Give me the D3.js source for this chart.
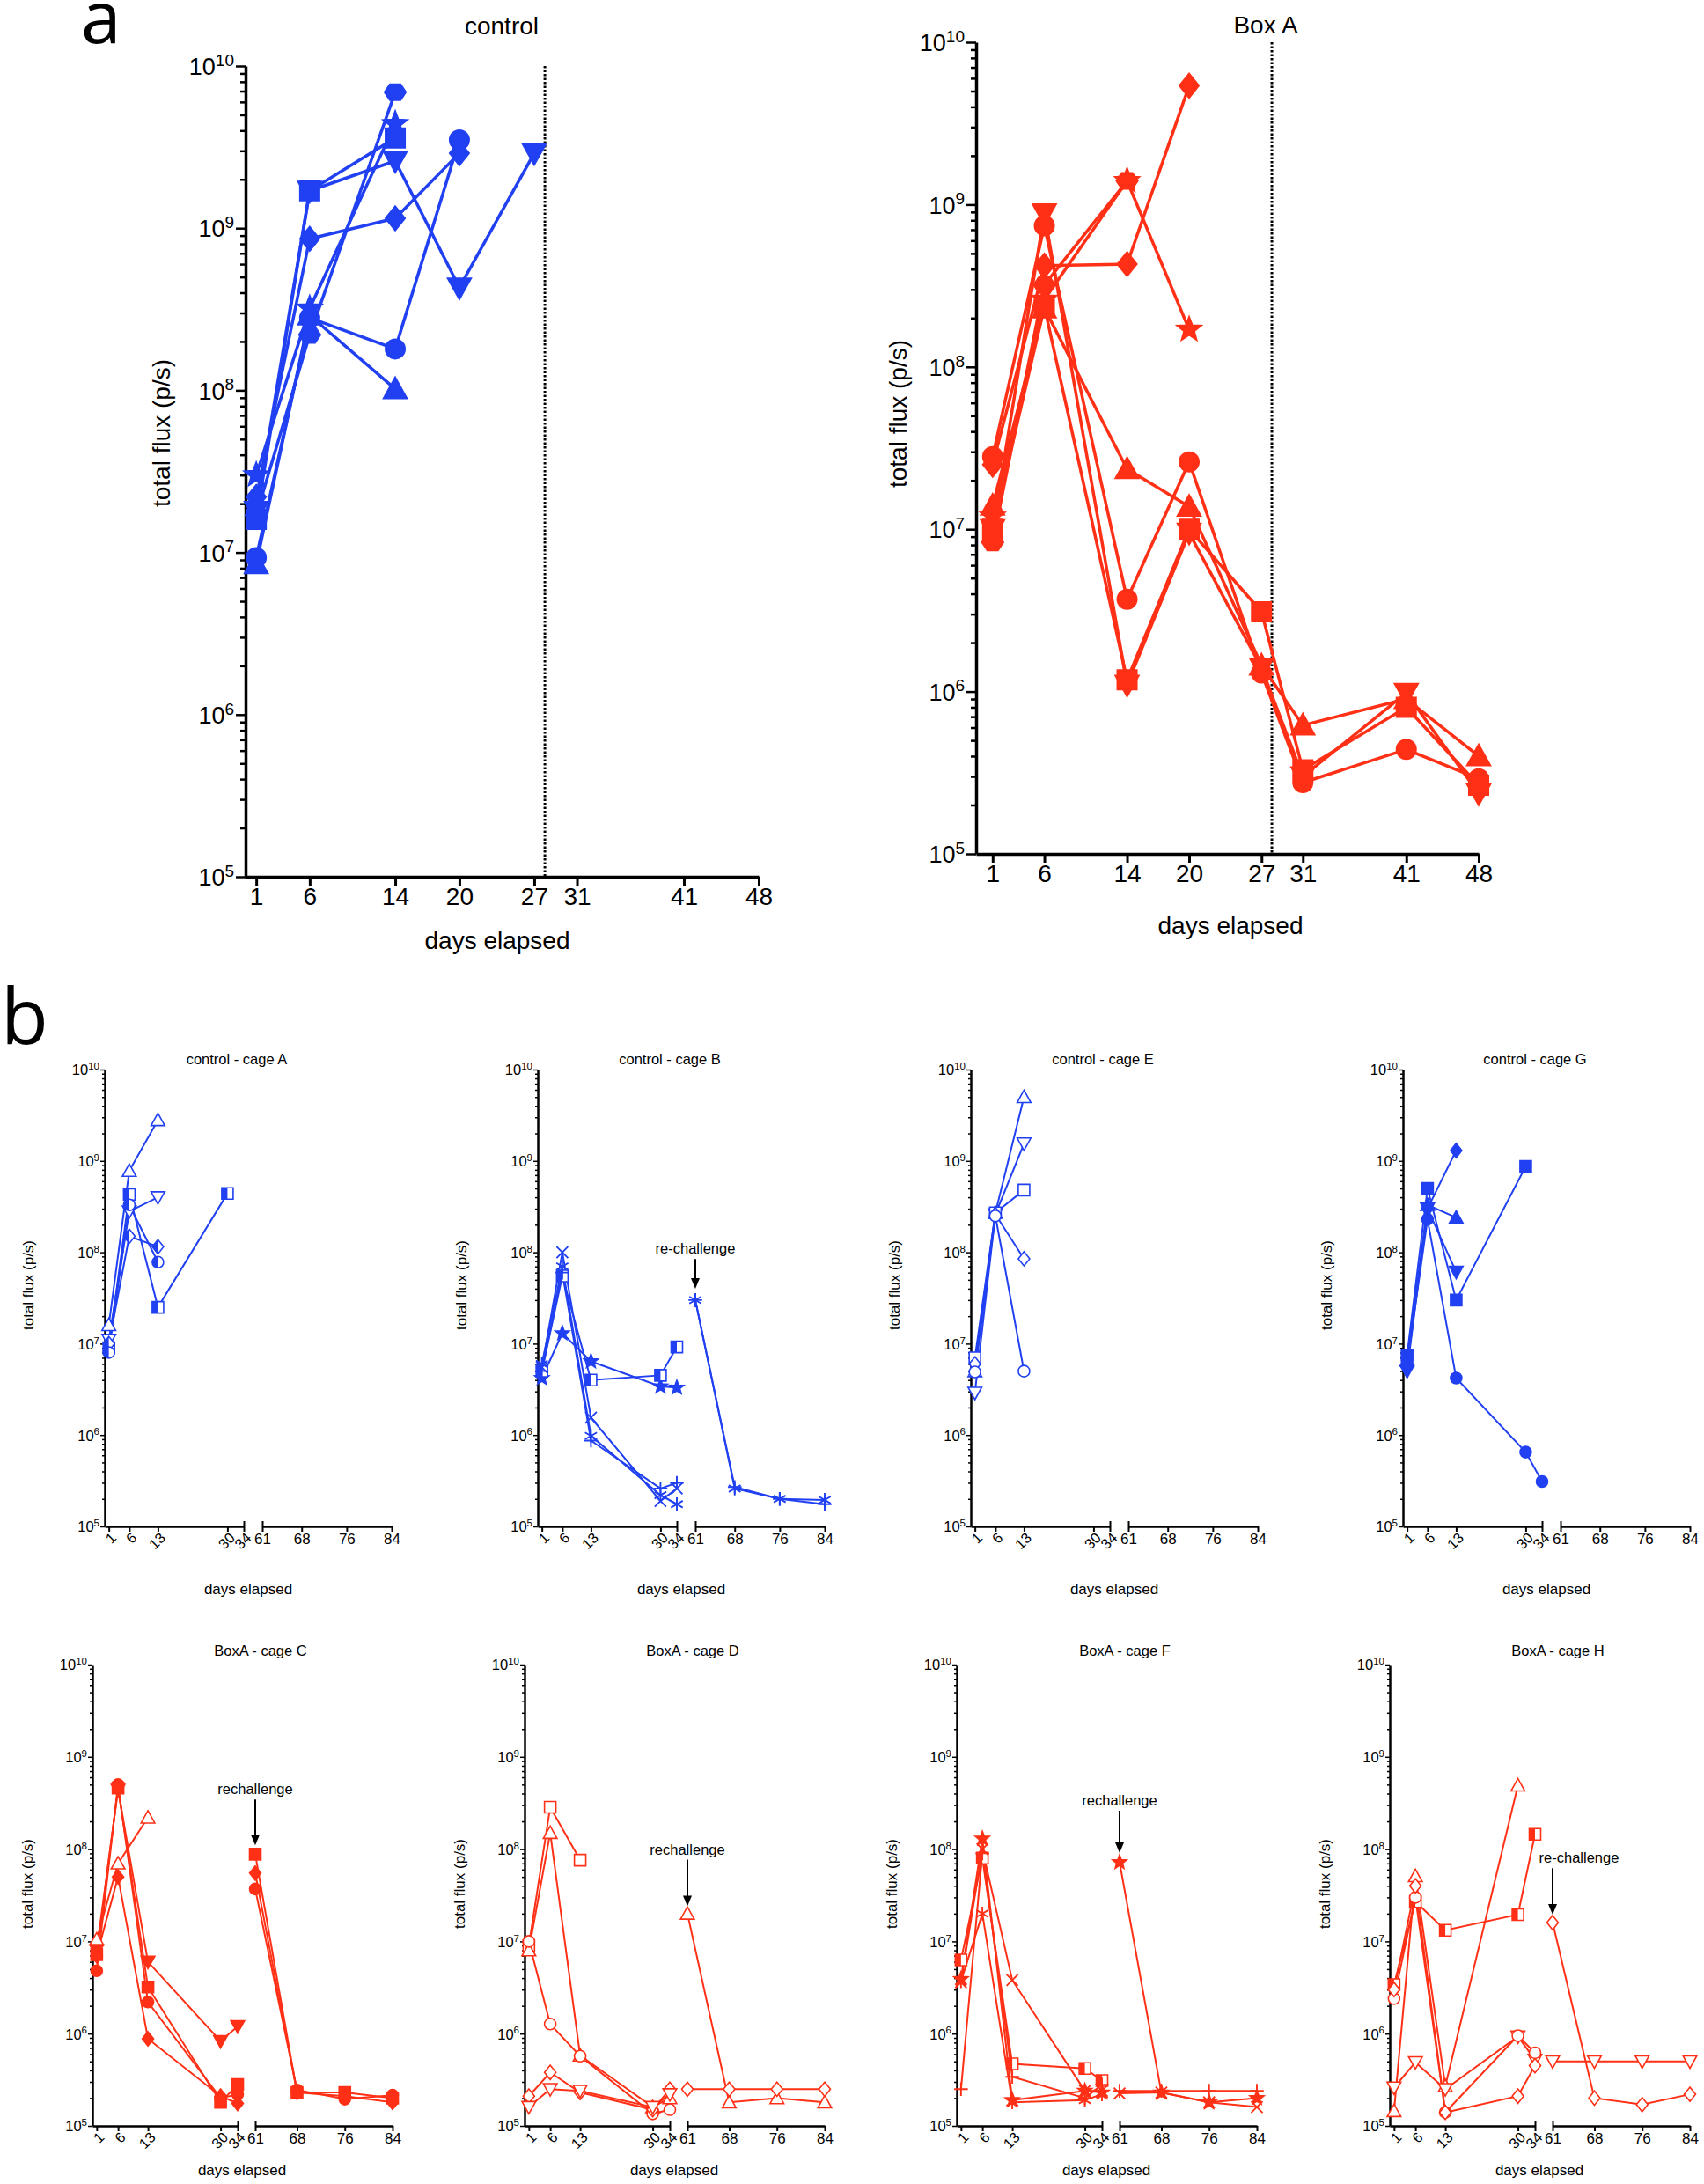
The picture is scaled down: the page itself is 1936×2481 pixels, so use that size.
<!DOCTYPE html>
<html><head><meta charset="utf-8">
<script src="https://cdn.jsdelivr.net/npm/d3@7"></script>
<style>body{margin:0;background:#fff} svg{display:block}</style>
</head><body>
<svg id="chart" width="1936" height="2481"></svg>
<script>
const BLUE = "#2040f2", RED = "#ff3016";
const FONT = "'Liberation Sans', Arial, Helvetica, sans-serif";

// ---------- panel a data ----------
const aXTicks = [1, 6, 14, 20, 27, 31, 41, 48];
const aDottedDay = 28;
const aControl = [
  {shape:"circle",  pts:[[1,9.3e6],[6,2.8e8],[14,1.8e8],[20,3.5e9]]},
  {shape:"triUp",   pts:[[1,8.5e6],[6,2.9e8],[14,1.02e8]]},
  {shape:"square",  pts:[[1,1.6e7],[6,1.7e9],[14,3.6e9]]},
  {shape:"triDown", pts:[[1,1.8e7],[6,1.7e9],[14,2.6e9],[20,4.3e8],[27,2.9e9]]},
  {shape:"diamond", pts:[[1,2.2e7],[6,8.6e8],[14,1.15e9],[20,2.9e9]]},
  {shape:"hexagon", pts:[[1,1.7e7],[6,2.2e8],[14,6.9e9]]},
  {shape:"star",    pts:[[1,3.0e7],[6,3.2e8],[14,4.4e9]]}
];
const aBoxA = [
  {shape:"circle",  pts:[[1,2.8e7],[6,7.4e8],[14,3.7e6],[20,2.6e7],[27,1.3e6],[31,2.75e5],[41,4.4e5],[48,2.9e5]]},
  {shape:"square",  pts:[[1,1.0e7],[6,2.35e8],[14,1.18e6],[20,1.0e7],[27,3.1e6],[31,3.3e5],[41,8.0e5],[48,2.65e5]]},
  {shape:"triUp",   pts:[[1,1.4e7],[6,2.3e8],[14,2.35e7],[20,1.38e7],[27,1.45e6],[31,6.2e5],[41,9.0e5],[48,4.0e5]]},
  {shape:"triDown", pts:[[1,1.0e7],[6,8.8e8],[14,1.1e6],[20,9.5e6],[27,1.4e6],[31,3.0e5],[41,9.8e5],[48,2.35e5]]},
  {shape:"diamond", pts:[[1,2.5e7],[6,4.2e8],[14,4.3e8],[20,5.4e9]]},
  {shape:"hexagon", pts:[[1,8.3e6],[6,3.2e8],[14,1.4e9]]},
  {shape:"star",    pts:[[1,1.2e7],[6,2.6e8],[14,1.4e9],[20,1.7e8]]}
];

// ---------- panel b data ----------
const bSeg1Ticks = [1, 6, 13, 30, 34];
const bSeg2Ticks = [61, 68, 76, 84];
const bCageA = [
  {shape:"triUp",   fill:"open", pts:[[1,1.6e7],[6,7.8e8],[13,2.8e9]]},
  {shape:"triDown", fill:"open", pts:[[1,1.1e7],[6,2.8e8],[13,4.0e8]]},
  {shape:"square",  fill:"half", pts:[[1,9.0e6],[6,4.3e8],[13,2.5e7],[30,4.4e8]]},
  {shape:"diamond", fill:"half", pts:[[1,1.0e7],[6,1.5e8],[13,1.15e8]]},
  {shape:"circle",  fill:"half", pts:[[1,8.0e6],[6,3.3e8],[13,7.8e7]]}
];
const bCageB = [
  {shape:"star",     fill:"solid", pts:[[1,4.2e6],[6,1.3e7],[13,6.4e6],[30,3.4e6],[34,3.3e6]]},
  {shape:"square",   fill:"half",  pts:[[1,5.0e6],[6,5.5e7],[13,4.0e6],[30,4.5e6],[34,9.2e6]]},
  {shape:"x",        pts:[[1,5.5e6],[6,1.0e8],[13,1.55e6],[30,1.9e5],[34,2.6e5]]},
  {shape:"asterisk", pts:[[1,6.0e6],[6,7.0e7],[13,9.8e5],[30,2.2e5],[34,1.75e5],[61,3.0e7],[68,2.6e5],[76,2.0e5],[84,1.95e5]]},
  {shape:"plus",     pts:[[1,5.0e6],[6,6.0e7],[13,8.7e5],[30,2.6e5],[34,3.0e5],[61,3.0e7],[68,2.7e5],[76,2.0e5],[84,1.75e5]]}
];
const bCageE = [
  {shape:"triUp",   fill:"open", pts:[[1,5.0e6],[6,2.7e8],[13,5.0e9]]},
  {shape:"triDown", fill:"open", pts:[[1,2.9e6],[6,2.6e8],[13,1.55e9]]},
  {shape:"square",  fill:"open", pts:[[1,7.0e6],[6,2.7e8],[13,4.8e8]]},
  {shape:"diamond", fill:"open", pts:[[1,6.0e6],[6,2.6e8],[13,8.5e7]]},
  {shape:"circle",  fill:"open", pts:[[1,4.9e6],[6,2.5e8],[13,5.0e6]]}
];
const bCageG = [
  {shape:"diamond", fill:"solid", pts:[[1,5.5e6],[6,3.0e8],[13,1.3e9]]},
  {shape:"square",  fill:"solid", pts:[[1,7.5e6],[6,5.0e8],[13,3.0e7],[30,8.7e8]]},
  {shape:"triUp",   fill:"solid", pts:[[1,6.5e6],[6,3.3e8],[13,2.4e8]]},
  {shape:"triDown", fill:"solid", pts:[[1,5.0e6],[6,3.0e8],[13,6.1e7]]},
  {shape:"circle",  fill:"solid", pts:[[1,6.0e6],[6,2.3e8],[13,4.2e6],[30,6.5e5],[34,3.1e5]]}
];
const bCageC = [
  {shape:"circle",  fill:"solid", pts:[[1,4.8e6],[6,5.0e8],[13,2.2e6],[30,2.0e5],[34,2.2e5],[61,3.7e7],[68,2.45e5],[76,1.95e5],[84,2.15e5]]},
  {shape:"square",  fill:"solid", pts:[[1,7.2e6],[6,4.6e8],[13,3.2e6],[30,1.8e5],[34,2.8e5],[61,8.8e7],[68,2.3e5],[76,2.3e5],[84,2.0e5]]},
  {shape:"triUp",   fill:"open",  pts:[[1,1.05e7],[6,7.0e7],[13,2.2e8]]},
  {shape:"triDown", fill:"solid", pts:[[1,8.0e6],[6,4.4e8],[13,6.0e6],[30,8.3e5],[34,1.2e6]]},
  {shape:"diamond", fill:"solid", pts:[[1,7.0e6],[6,5.0e7],[13,8.8e5],[30,2.1e5],[34,1.75e5],[61,5.5e7],[68,2.3e5],[76,2.1e5],[84,1.8e5]]}
];
const bCageD = [
  {shape:"square",  fill:"open", pts:[[1,9.0e6],[6,2.85e8],[13,7.6e7]]},
  {shape:"triUp",   fill:"open", pts:[[1,8.0e6],[6,1.5e8],[13,5.8e5],[30,1.6e5],[34,2.0e5],[61,2.0e7],[68,1.8e5],[76,2.0e5],[84,1.8e5]]},
  {shape:"circle",  fill:"open", pts:[[1,1.0e7],[6,1.27e6],[13,5.7e5],[30,1.35e5],[34,1.5e5]]},
  {shape:"diamond", fill:"open", pts:[[1,2.1e5],[6,3.8e5],[13,2.3e5],[30,1.5e5],[34,2.5e5],[61,2.5e5],[68,2.5e5],[76,2.5e5],[84,2.5e5]]},
  {shape:"triDown", fill:"open", pts:[[1,1.6e5],[6,2.5e5],[13,2.4e5],[30,1.6e5],[34,2.2e5]]}
];
const bCageF = [
  {shape:"square",   fill:"half",  pts:[[1,6.3e6],[6,8.0e7],[13,4.7e5],[30,4.2e5],[34,3.1e5]]},
  {shape:"star",     fill:"solid", pts:[[1,3.9e6],[6,1.3e8],[13,1.9e5],[30,2.4e5],[34,2.3e5],[61,7.2e7],[68,2.3e5],[76,1.8e5],[84,2.0e5]]},
  {shape:"asterisk", pts:[[1,3.7e6],[6,2.0e7],[13,1.8e5],[30,1.9e5],[34,2.2e5]]},
  {shape:"x",        pts:[[1,3.6e6],[6,1.0e8],[13,3.8e6],[30,2.4e5],[34,2.4e5],[61,2.25e5],[68,2.3e5],[76,1.8e5],[84,1.6e5]]},
  {shape:"plus",     pts:[[1,2.5e5],[6,9.0e7],[13,3.4e5],[30,2.0e5],[34,2.8e5],[61,2.4e5],[68,2.4e5],[76,2.4e5],[84,2.4e5]]}
];
const bCageH = [
  {shape:"triUp",   fill:"open", pts:[[1,1.45e5],[6,5.1e7],[13,2.7e5],[30,4.9e8]]},
  {shape:"square",  fill:"half", pts:[[1,3.4e6],[6,2.7e7],[13,1.32e7],[30,1.95e7],[34,1.45e8]]},
  {shape:"triDown", fill:"open", pts:[[1,2.6e5],[6,4.9e5],[13,2.5e5],[30,9.3e5],[34,5.2e5],[61,5.0e5],[68,5.0e5],[76,5.0e5],[84,5.0e5]]},
  {shape:"circle",  fill:"open", pts:[[1,2.4e6],[6,3.0e7],[13,1.4e5],[30,9.5e5],[34,6.2e5]]},
  {shape:"diamond", fill:"open", pts:[[1,3.0e6],[6,4.0e7],[13,1.4e5],[30,2.1e5],[34,4.5e5],[61,1.6e7],[68,2.0e5],[76,1.7e5],[84,2.2e5]]}
];
const bTitles = ["control - cage A","control - cage B","control - cage E","control - cage G",
                 "BoxA - cage C","BoxA - cage D","BoxA - cage F","BoxA - cage H"];
const bData = [bCageA, bCageB, bCageE, bCageG, bCageC, bCageD, bCageF, bCageH];
// rechallenge notes: panel index, label, day, value at text centre, value at arrow tip
const bNotes = [
  {panel:1, text:"re-challenge", day:61, textVal:1.1e8, tipVal:4.0e7, dx:0},
  {panel:4, text:"rechallenge",  day:61, textVal:4.5e8, tipVal:1.1e8, dx:0},
  {panel:5, text:"rechallenge",  day:61, textVal:1.0e8, tipVal:2.4e7, dx:0},
  {panel:6, text:"rechallenge",  day:61, textVal:3.4e8, tipVal:9.1e7, dx:0},
  {panel:7, text:"re-challenge", day:61, textVal:8.1e7, tipVal:1.95e7, dx:30}
];

// ---------- helpers ----------
const svg = d3.select("#chart").attr("font-family", FONT);
svg.append("defs").append("clipPath").attr("id","lhalf").attr("clipPathUnits","userSpaceOnUse")
  .append("rect").attr("x",-40).attr("y",-40).attr("width",40).attr("height",80);

const strokeOnly = new Set(["x","plus","asterisk"]);
function shapePath(shape, r){
  const f = v => (+v).toFixed(2);
  switch(shape){
    case "circle": return `M${-r},0A${r},${r},0,1,0,${r},0A${r},${r},0,1,0,${-r},0Z`;
    case "square": return `M${-r},${-r}H${r}V${r}H${-r}Z`;
    case "triUp": { const h=r*1.2; return `M0,${-h}L${h},${h*0.8}L${-h},${h*0.8}Z`; }
    case "triDown": { const h=r*1.2; return `M0,${h}L${h},${-h*0.8}L${-h},${-h*0.8}Z`; }
    case "diamond": return `M0,${-r*1.25}L${r},0L0,${r*1.25}L${-r},0Z`;
    case "hexagon": { let p=""; for(let i=0;i<6;i++){const a=i*Math.PI/3; p+=(i?"L":"M")+f(r*1.1*Math.cos(a))+","+f(r*0.95*Math.sin(a));} return p+"Z"; }
    case "star": { let p=""; for(let i=0;i<10;i++){const a=-Math.PI/2+i*Math.PI/5; const rr=i%2?r*0.55:r*1.3; p+=(i?"L":"M")+f(rr*Math.cos(a))+","+f(rr*Math.sin(a));} return p+"Z"; }
    case "x": return `M${-r},${-r}L${r},${r}M${-r},${r}L${r},${-r}`;
    case "plus": return `M${-r*1.2},0H${r*1.2}M0,${-r*1.2}V${r*1.2}`;
    case "asterisk": { let p=""; for(let i=0;i<3;i++){const a=Math.PI/2+i*Math.PI/3; const c=Math.cos(a)*r*1.2, s=Math.sin(a)*r*1.2; p+=`M${f(-c)},${f(-s)}L${f(c)},${f(s)}`;} return p; }
  }
}
function drawMarker(parent, s, px, py, color, r, sw){
  const g = parent.append("g").attr("transform", `translate(${px},${py})`);
  const path = shapePath(s.shape, r);
  if (strokeOnly.has(s.shape)) {
    g.append("path").attr("d",path).attr("fill","none").attr("stroke",color).attr("stroke-width",sw*1.2);
    return;
  }
  const mode = s.fill || "solid";
  g.append("path").attr("d",path).attr("fill", mode==="solid"?color:"#fff").attr("stroke",color).attr("stroke-width",sw);
  if (mode==="half") g.append("path").attr("d",path).attr("fill",color).attr("clip-path","url(#lhalf)");
}
const isMajor = d => Math.abs(Math.log10(d) - Math.round(Math.log10(d))) < 1e-9;
function yTickVals(){ const v=[]; for(let k=5;k<10;k++) for(let m=1;m<10;m++) v.push(m*Math.pow(10,k)); v.push(1e10); return v; }

function drawYAxis(g, y, o){
  const ga = g.append("g").call(d3.axisLeft(y).tickValues(yTickVals()).tickSizeOuter(0).tickFormat(()=>""));
  ga.attr("font-family", FONT).attr("font-size", o.fs);
  ga.select(".domain").attr("stroke","#000").attr("stroke-width", o.sw);
  ga.selectAll(".tick line").attr("stroke","#000").attr("stroke-width", o.tw).attr("x2", d => isMajor(d) ? -o.major : -o.minor);
  ga.selectAll(".tick text").each(function(d){
    const t = d3.select(this);
    t.text(null).attr("x", -o.gap).attr("dy","0.36em").attr("fill","#000");
    if (isMajor(d)) {
      t.append("tspan").text("10");
      t.append("tspan").attr("dy","-0.55em").attr("font-size", o.sup).text(Math.round(Math.log10(d)));
    }
  });
}

// ---------- panel a ----------
const aPanels = [
  {data:aControl, color:BLUE, x0:279, x1:862, dom:[0,48], yTop:75, yBot:996, title:"control", titleX:570, titleY:39, ylabX:193, ylabY:492, xlabX:565, xlabY:1078},
  {data:aBoxA, color:RED, x0:1109, x1:1680, dom:[-0.6,48], yTop:48, yBot:970, title:"Box A", titleX:1438, titleY:38, ylabX:1030, ylabY:470, xlabX:1398, xlabY:1061}
];
aPanels.forEach(P => {
  const x = d3.scaleLinear().domain(P.dom).range([P.x0, P.x1]);
  const y = d3.scaleLog().domain([1e5,1e10]).range([P.yBot, P.yTop]);
  const g = svg.append("g");
  g.append("line").attr("x1", x(aDottedDay)).attr("x2", x(aDottedDay)).attr("y1", y(1e10)).attr("y2", y(1e5))
    .attr("stroke","#000").attr("stroke-width",3).attr("stroke-dasharray","2.5,2");
  const gx = g.append("g").attr("transform", `translate(0,${P.yBot})`)
    .call(d3.axisBottom(x).tickValues(aXTicks).tickSize(10).tickSizeOuter(0));
  gx.attr("font-family", FONT).attr("font-size", 28);
  gx.select(".domain").attr("stroke","#000").attr("stroke-width",3.5);
  gx.selectAll(".tick line").attr("stroke","#000").attr("stroke-width",3);
  gx.selectAll(".tick text").attr("fill","#000").attr("y",12);
  const gy = g.append("g").attr("transform", `translate(${P.x0},0)`);
  drawYAxis(gy, y, {fs:27, sup:19, sw:3.5, tw:2.5, major:11, minor:6, gap:13});
  const line = d3.line().x(d=>x(d[0])).y(d=>y(d[1]));
  P.data.forEach(s => g.append("path").attr("d", line(s.pts)).attr("fill","none").attr("stroke",P.color).attr("stroke-width",3.5).attr("stroke-linejoin","round"));
  P.data.forEach(s => s.pts.forEach(d => drawMarker(g, s, x(d[0]), y(d[1]), P.color, 11, 2)));
  g.append("text").attr("x",P.titleX).attr("y",P.titleY).attr("text-anchor","middle").attr("font-size",28).text(P.title);
  g.append("text").attr("transform",`translate(${P.ylabX},${P.ylabY}) rotate(-90)`).attr("text-anchor","middle").attr("font-size",28).text("total flux (p/s)");
  g.append("text").attr("x",P.xlabX).attr("y",P.xlabY).attr("text-anchor","middle").attr("font-size",28).text("days elapsed");
});
svg.append("text").attr("x",92).attr("y",49).attr("font-family","'Open Sans', sans-serif").attr("font-size",82).text("a");
svg.append("text").attr("x",1).attr("y",1186).attr("font-family","'Open Sans', sans-serif").attr("font-size",88).text("b");

// ---------- panel b ----------
const bRows = [
  {axisXs:[119,611,1103,1594], yTop:1215, yBot:1734, seg1W:158, seg2A:179, seg2B:326, titleDx:150, titleY:1209, ylabDx:-81, ylabY:1460, xlabDx:163, xlabY:1811},
  {axisXs:[105,596,1087,1579], yTop:1891, yBot:2415, seg1W:165, seg2A:185, seg2B:341, titleDx:191, titleY:1881, ylabDx:-68, ylabY:2140, xlabDx:170, xlabY:2471}
];
bData.forEach((data, i) => {
  const R = bRows[Math.floor(i/4)];
  const X = R.axisXs[i%4];
  const color = i < 4 ? BLUE : RED;
  const x1 = d3.scaleLinear().domain([0,34]).range([X, X+R.seg1W]);
  const x2 = d3.scaleLinear().domain([61,84]).range([X+R.seg2A, X+R.seg2B]);
  const y = d3.scaleLog().domain([1e5,1e10]).range([R.yBot, R.yTop]);
  const g = svg.append("g");
  const ga1 = g.append("g").attr("transform",`translate(0,${R.yBot})`)
    .call(d3.axisBottom(x1).tickValues(bSeg1Ticks).tickSize(6).tickSizeOuter(0));
  ga1.attr("font-family",FONT).attr("font-size",16.5);
  ga1.select(".domain").attr("stroke","#000").attr("stroke-width",2.5);
  ga1.selectAll(".tick line").attr("stroke","#000").attr("stroke-width",2).attr("y1", d => d===34 ? -6 : 0);
  ga1.selectAll(".tick text").attr("fill","#000").attr("x",0).attr("y",0).attr("dy","0.35em")
    .attr("text-anchor","end").attr("transform","translate(5,10) rotate(-45)");
  const ga2 = g.append("g").attr("transform",`translate(0,${R.yBot})`)
    .call(d3.axisBottom(x2).tickValues(bSeg2Ticks).tickSize(6).tickSizeOuter(0));
  ga2.attr("font-family",FONT).attr("font-size",17);
  ga2.select(".domain").attr("stroke","#000").attr("stroke-width",2.5);
  ga2.selectAll(".tick line").attr("stroke","#000").attr("stroke-width",2).attr("y1", d => d===61 ? -6 : 0);
  ga2.selectAll(".tick text").attr("fill","#000").attr("y",8);
  const gy = g.append("g").attr("transform",`translate(${X},0)`);
  drawYAxis(gy, y, {fs:16.5, sup:11.5, sw:2.5, tw:1.5, major:5, minor:3, gap:6});
  const l1 = d3.line().x(d=>x1(d[0])).y(d=>y(d[1]));
  const l2 = d3.line().x(d=>x2(d[0])).y(d=>y(d[1]));
  data.forEach(s => {
    const a = s.pts.filter(d=>d[0]<=34), b = s.pts.filter(d=>d[0]>=61);
    if (a.length>1) g.append("path").attr("d",l1(a)).attr("fill","none").attr("stroke",color).attr("stroke-width",2);
    if (b.length>1) g.append("path").attr("d",l2(b)).attr("fill","none").attr("stroke",color).attr("stroke-width",2);
  });
  data.forEach(s => s.pts.forEach(d => {
    const px = d[0] <= 34 ? x1(d[0]) : x2(d[0]);
    drawMarker(g, s, px, y(d[1]), color, 6.5, 1.6);
  }));
  g.append("text").attr("x",X+R.titleDx).attr("y",R.titleY).attr("text-anchor","middle").attr("font-size",16.5).text(bTitles[i]);
  g.append("text").attr("transform",`translate(${X+R.ylabDx},${R.ylabY}) rotate(-90)`).attr("text-anchor","middle").attr("font-size",17).text("total flux (p/s)");
  g.append("text").attr("x",X+R.xlabDx).attr("y",R.xlabY).attr("text-anchor","middle").attr("font-size",17).text("days elapsed");
  bNotes.filter(n=>n.panel===i).forEach(n => {
    const ax = x2(n.day), ty = y(n.textVal), tip = y(n.tipVal);
    g.append("text").attr("x", ax + n.dx).attr("y", ty + 6).attr("text-anchor","middle").attr("font-size",16.5).text(n.text);
    g.append("line").attr("x1",ax).attr("x2",ax).attr("y1",ty+12).attr("y2",tip-9).attr("stroke","#000").attr("stroke-width",2);
    g.append("path").attr("d",`M${ax},${tip}L${ax-5},${tip-12}L${ax+5},${tip-12}Z`).attr("fill","#000");
  });
});
</script>
</body></html>
